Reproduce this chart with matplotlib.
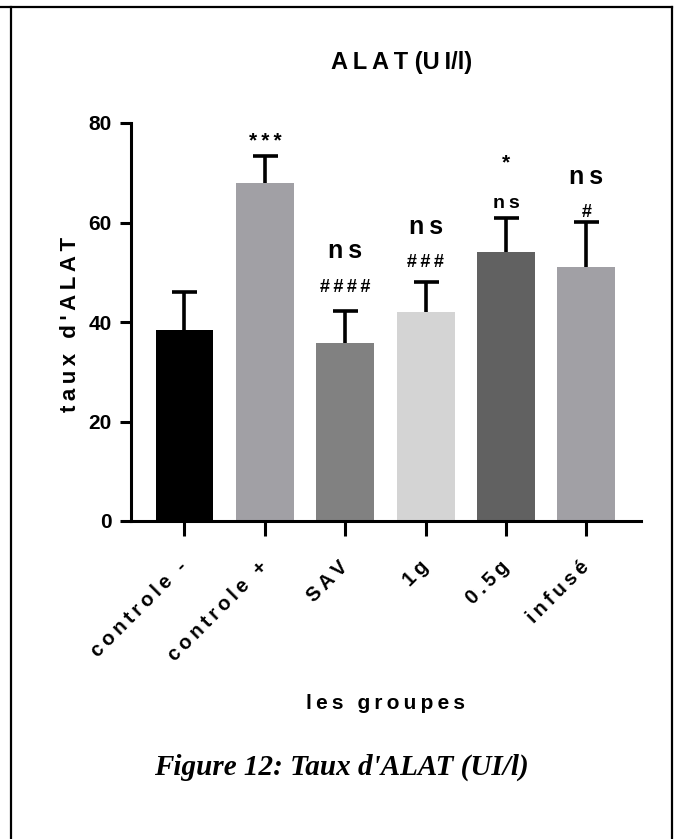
import numpy as np
import matplotlib.pyplot as plt
from matplotlib.lines import Line2D

plt.rcParams['font.family'] = ['Liberation Sans', 'DejaVu Sans']
plt.rcParams['font.weight'] = 'bold'

groups = ['controle -', 'controle +', 'SAV', '1g', '0.5g', 'infusé']
means = [38.3, 67.9, 35.8, 42.1, 54.0, 51.0]
errors = [7.8, 5.5, 6.5, 6.0, 7.0, 9.1]
bar_colors = ['#000000', '#a1a0a5', '#818181', '#d4d4d4', '#616161', '#a1a0a5']
y_ticks = [0, 20, 40, 60, 80]

# significance marks: (group, text, baseline, fontsize)
marks = [
    (1, '***', 75.2, 15),
    (2, 'ns', 52.9, 18),
    (2, '####', 46.0, 13),
    (3, 'ns', 57.7, 18),
    (3, '###', 51.1, 13),
    (4, '*', 70.8, 15),
    (4, 'ns', 62.9, 14),
    (5, 'ns', 67.7, 18),
    (5, '#', 61.1, 13),
]

THIN = '\u2009'


def track(s, sep=THIN):
    return sep.join(s)


fig = plt.figure(figsize=(6.8, 8.39), dpi=100)
ax = fig.add_axes([131 / 680, 1 - 521 / 839, 510 / 680, 398 / 839])

x = np.arange(len(groups))
ax.bar(x, means, width=0.72, color=bar_colors, zorder=2)
_, caps, _ = ax.errorbar(x, means, yerr=[np.zeros(len(errors)), errors],
                         fmt='none', ecolor='black', elinewidth=2.6,
                         capsize=9, capthick=2.6, zorder=3)
caps[0].set_visible(False)  # only the upper cap, like Prism

ax.set_xlim(-0.665, 5.68)
ax.set_ylim(0, 80)
ax.set_yticks(y_ticks)
ax.set_yticklabels([str(t) for t in y_ticks], fontsize=15, fontweight='bold')
ax.set_xticks(x)
ax.set_xticklabels([track(g) for g in groups], rotation=45, ha='right',
                   va='center', rotation_mode='anchor', fontsize=14.5,
                   fontweight='bold')
ax.tick_params(axis='y', length=8, width=2.2, pad=6)
ax.tick_params(axis='x', length=11, width=2.2, pad=20)

for side in ['top', 'right']:
    ax.spines[side].set_visible(False)
for side in ['left', 'bottom']:
    ax.spines[side].set_linewidth(2.2)

ax.set_ylabel(track("taux d'ALAT"), fontsize=16, fontweight='bold')
ax.yaxis.set_label_coords(-0.098, 0.495)
ax.set_xlabel(track('les groupes'), fontsize=15, fontweight='bold')
ax.xaxis.set_label_coords(0.5, -0.435)

for gi, txt, yb, fs in marks:
    ax.text(gi, yb, track(txt), ha='center', va='baseline',
            fontsize=fs, fontweight='bold', clip_on=False)

fig.text(0.59, 1 - 63 / 839, track('ALAT') + ' (U' + THIN + 'I/l)',
         ha='center', va='center', fontsize=17, fontweight='bold')

fig.text(0.5015, 1 - 767 / 839, "Figure 12: Taux d'ALAT (UI/l)", ha='center',
         va='center', fontsize=21, fontweight='bold', fontstyle='italic',
         family='Liberation Serif')

# page frame
W, H = 680, 839
frame = [((0, 672), (6.5, 6.5)), ((10.5, 10.5), (6.5, 839)),
         ((672, 672), (6.5, 839))]
for xs, ys in frame:
    fig.add_artist(Line2D([v / W for v in xs], [1 - v / H for v in ys],
                          color='black', lw=1.6, transform=fig.transFigure))

fig.savefig('out.png', dpi=100)
